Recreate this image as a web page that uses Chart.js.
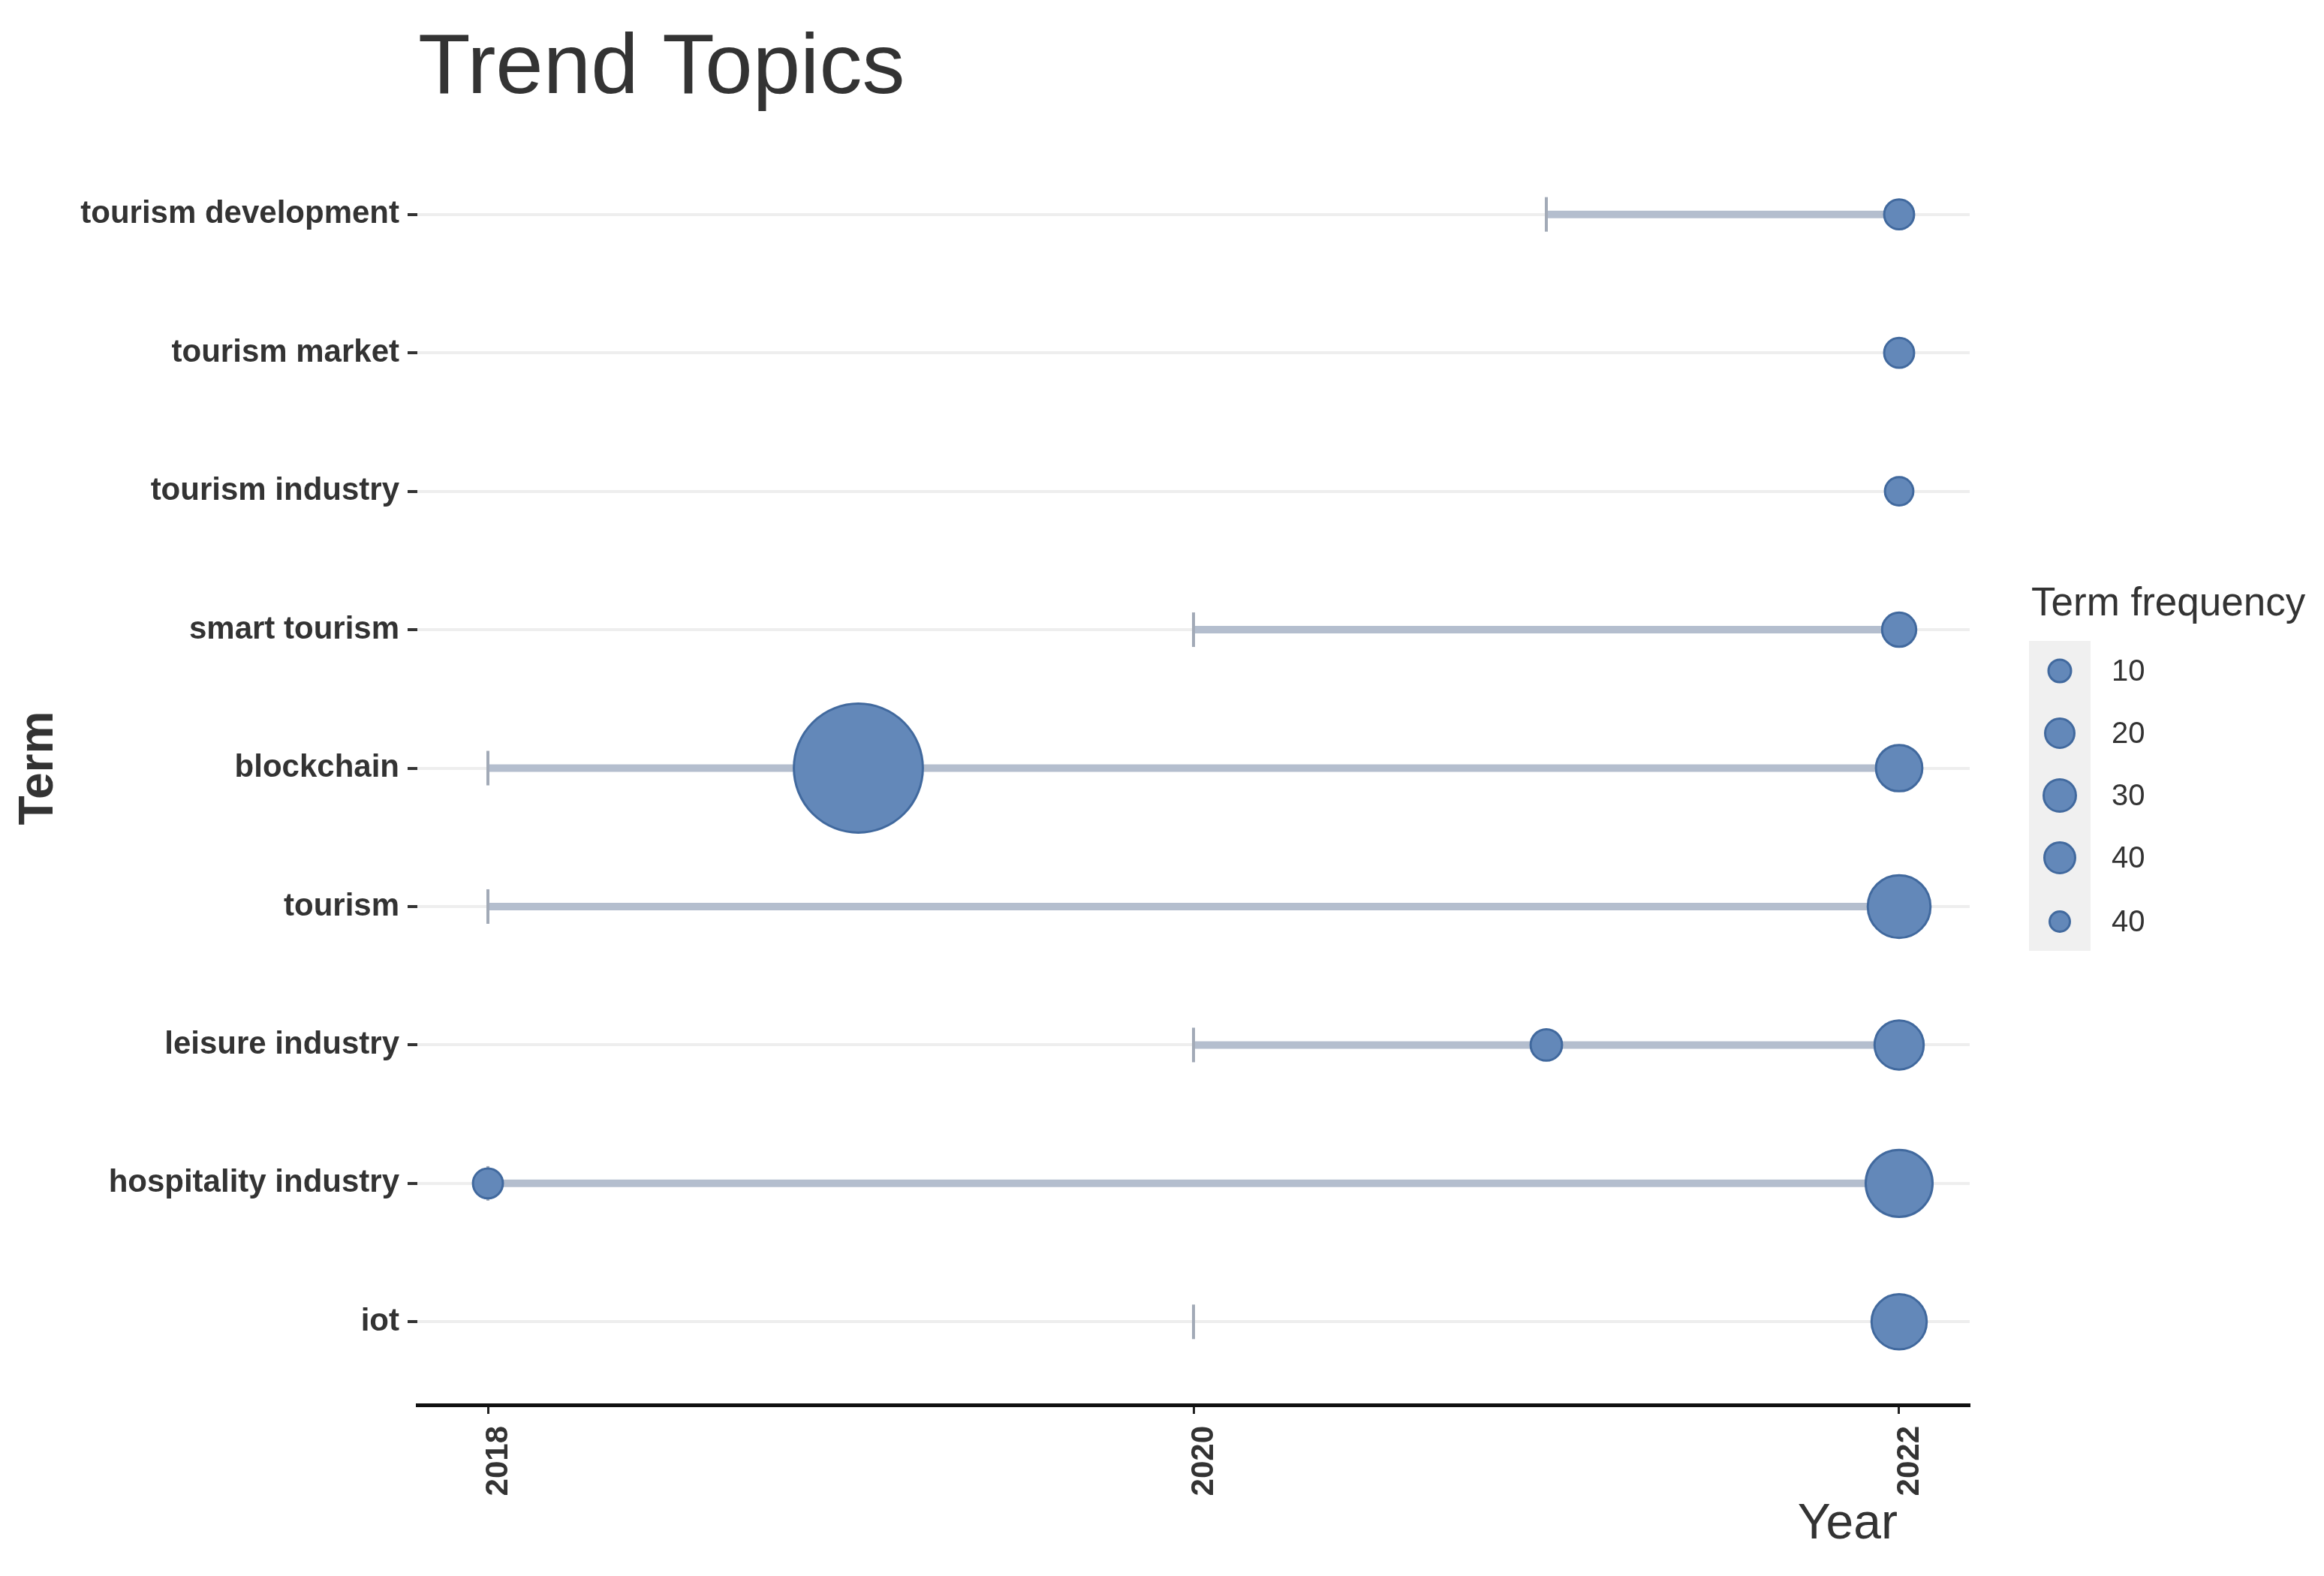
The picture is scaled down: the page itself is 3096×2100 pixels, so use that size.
<!DOCTYPE html>
<html>
<head>
<meta charset="utf-8">
<title>Trend Topics</title>
<script src="https://cdn.jsdelivr.net/npm/chart.js@4.4.1/dist/chart.umd.min.js"></script>
<style>
  html, body { margin: 0; padding: 0; background: #fff; }
  canvas { display: block; }
</style>
</head>
<body>
<canvas id="trendChart" width="3096" height="2100"></canvas>
<script>
// terms, top to bottom
const terms = ['tourism development', 'tourism market', 'tourism industry', 'smart tourism', 'blockchain',
               'tourism', 'leisure industry', 'hospitality industry', 'iot'];
// span of each term (first year marked by a small bar)
const lineStart = [2021, null, null, 2020, 2018, 2018, 2020, 2018, 2020];
const lineEnd   = [2022, null, null, 2022, 2022, 2022, 2022, 2022, null];
// bubble at the latest year
const latestYear = [2022, 2022, 2022, 2022, 2022, 2022, 2022, 2022, 2022];
const latestFreq = [10, 10, 9, 13, 24, 44, 27, 50, 34];
// second bubble for some terms
const earlyYear = [null, null, null, null, 2019.05, null, 2021, 2018, null];
const earlyFreq = [null, null, null, null, 186, null, 11, 10, null];

const yearTicks = [2018, 2020, 2022];
const legendLabels = ['10', '20', '30', '40', '40'];

const FONT = '"Liberation Sans", Arial, Helvetica, sans-serif';
Chart.defaults.font.family = FONT;

function bubbleRadius(f) {
    return 6.3 * Math.sqrt(f);
}

const bubbles = [];
terms.forEach((t, i) => {
    if (earlyYear[i] !== null) bubbles.push({ x: earlyYear[i], y: i, r: bubbleRadius(earlyFreq[i]) });
    bubbles.push({ x: latestYear[i], y: i, r: bubbleRadius(latestFreq[i]) });
});

const startMarks = [];
terms.forEach((t, i) => {
    if (lineStart[i] !== null) startMarks.push({ x: lineStart[i], y: i });
});

const datasets = [{
    type: 'bubble',
    label: 'Term frequency',
    data: bubbles,
    backgroundColor: '#6388b9',
    borderColor: '#41699e',
    borderWidth: 3,
    order: 0
}, {
    type: 'scatter',
    label: 'start',
    data: startMarks,
    pointStyle: 'line',
    rotation: 90,
    pointRadius: 23,
    borderColor: '#a2aab7',
    borderWidth: 4,
    showLine: false,
    order: 1
}];

terms.forEach((t, i) => {
    if (lineStart[i] === null || lineEnd[i] === null) return;
    datasets.push({
        type: 'line',
        label: t,
        data: [{ x: lineStart[i], y: i }, { x: lineEnd[i], y: i }],
        borderColor: '#b4bece',
        borderWidth: 10,
        pointRadius: 0,
        order: 2
    });
});

const annotate = {
    id: 'annotate',
    afterDraw(chart) {
        const ctx = chart.ctx;
        const area = chart.chartArea;
        ctx.save();
        ctx.fillStyle = '#333';
        ctx.textBaseline = 'alphabetic';

        ctx.font = `114px ${FONT}`;
        ctx.textAlign = 'left';
        ctx.fillText('Trend Topics', area.left + 1, 124);

        ctx.font = `66px ${FONT}`;
        ctx.textAlign = 'right';
        ctx.fillText('Year', chart.scales.x.getPixelForValue(2022) - 2, 2050);

        // legend
        ctx.font = `53px ${FONT}`;
        ctx.textAlign = 'left';
        ctx.fillText('Term frequency', 2706, 820);

        ctx.fillStyle = '#f0f0f0';
        ctx.fillRect(2703, 854, 82, 413);

        const keyY = [894, 977, 1060, 1143, 1228];
        const keyR = [15, 19.5, 21.5, 20.5, 13.5];
        ctx.font = `40px ${FONT}`;
        ctx.textBaseline = 'middle';
        legendLabels.forEach((lab, k) => {
            ctx.beginPath();
            ctx.arc(2744, keyY[k], keyR[k], 0, Math.PI * 2);
            ctx.fillStyle = '#6388b9';
            ctx.fill();
            ctx.lineWidth = 3;
            ctx.strokeStyle = '#41699e';
            ctx.stroke();
            ctx.fillStyle = '#333';
            ctx.fillText(lab, 2813, keyY[k] + 2);
        });
        ctx.restore();
    }
};

new Chart(document.getElementById('trendChart'), {
    type: 'bubble',
    data: { datasets: datasets },
    options: {
        responsive: false,
        animation: false,
        devicePixelRatio: 1,
        events: [],
        layout: { padding: { top: 175, right: 472, bottom: 0, left: 0 } },
        plugins: {
            legend: { display: false },
            tooltip: { enabled: false }
        },
        scales: {
            x: {
                type: 'linear',
                min: 2017.8,
                max: 2022.2,
                afterBuildTicks: s => { s.ticks = yearTicks.map(v => ({ value: v })); },
                afterFit: s => { s.height = 228; },
                ticks: {
                    minRotation: 90,
                    maxRotation: 90,
                    autoSkip: false,
                    padding: 16,
                    labelOffset: 14,
                    color: '#333',
                    font: { size: 42, weight: 'bold' },
                    callback: v => String(v)
                },
                grid: { drawOnChartArea: false, drawTicks: true, tickLength: 12, tickColor: '#222', tickWidth: 3 },
                border: { display: true, color: '#111', width: 5 }
            },
            y: {
                type: 'linear',
                reverse: true,
                min: -0.6,
                max: terms.length - 0.4,
                afterBuildTicks: s => { s.ticks = terms.map((t, i) => ({ value: i })); },
                afterFit: s => { s.width = 556; },
                ticks: {
                    autoSkip: false,
                    padding: 11,
                    color: '#333',
                    font: { size: 42, weight: 'bold' },
                    callback: v => terms[v]
                },
                grid: { color: '#eeeeee', lineWidth: 4, tickColor: '#333', tickWidth: 4, tickLength: 13 },
                border: { display: false },
                title: {
                    display: true,
                    text: 'Term',
                    color: '#333',
                    font: { size: 64, weight: 'bold' },
                    padding: { top: 14, bottom: 0 }
                }
            }
        }
    },
    plugins: [annotate]
});
</script>
</body>
</html>
